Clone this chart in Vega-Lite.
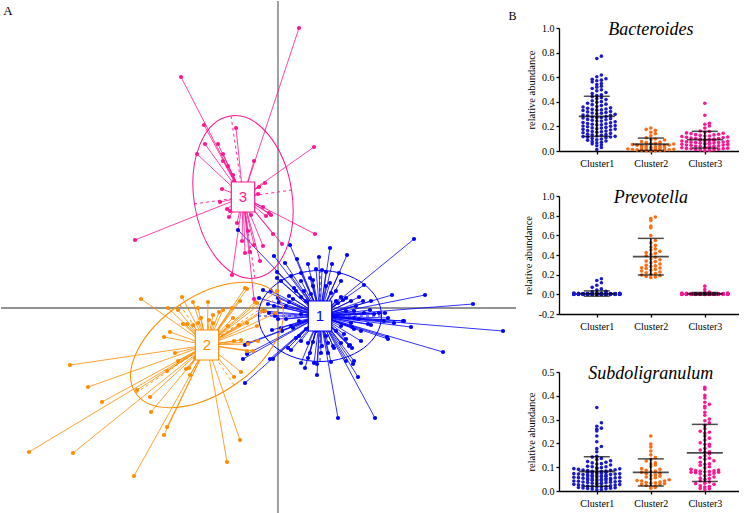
{"$schema":"https://vega.github.io/schema/vega-lite/v6.json","padding":0,"background":"white",
"config":{"view":{"stroke":null},"axis":{"domainColor":"black","domainWidth":1.3,"tickColor":"black","tickWidth":1.3,"tickSize":3,"labelFont":"Liberation Serif","labelFontSize":10,"labelColor":"black","labelPadding":2,"labelOverlap":false,"labelFlush":false,"titleFont":"Liberation Serif","titleFontSize":10.5,"titleFontWeight":"normal","titleColor":"black","titlePadding":5,"grid":false},"title":{"font":"Liberation Serif"}},
"datasets":{
"cen":[{"g":1,"cx":0.42,"cy":-0.08},{"g":2,"cx":-0.71,"cy":-0.37},{"g":3,"cx":-0.35,"cy":1.11}],
"ax":[{"g":3,"x":-0.47,"y":1.92},{"g":3,"x":-0.23,"y":0.30},{"g":3,"x":0.14,"y":1.18},{"g":3,"x":-0.84,"y":1.04},{"g":2,"x":0.00,"y":0.11},{"g":2,"x":-1.42,"y":-0.85},{"g":2,"x":-0.44,"y":-0.77},{"g":2,"x":-0.98,"y":0.03},{"g":1,"x":-0.20,"y":-0.08},{"g":1,"x":1.03,"y":-0.08},{"g":1,"x":0.42,"y":0.38},{"g":1,"x":0.42,"y":-0.53}],
"pts":[
{"g":1,"x":1.36,"y":0.69},{"g":1,"x":0.52,"y":0.60},{"g":1,"x":0.69,"y":0.53},{"g":1,"x":0.30,"y":0.44},{"g":1,"x":0.44,"y":0.38},{"g":1,"x":0.48,"y":0.36},{"g":1,"x":0.61,"y":0.35},{"g":1,"x":0.52,"y":0.25},{"g":1,"x":0.86,"y":0.23},{"g":1,"x":1.14,"y":0.13},{"g":1,"x":1.47,"y":0.13},{"g":1,"x":1.95,"y":0.04},{"g":1,"x":0.68,"y":0.10},{"g":1,"x":0.65,"y":0.08},{"g":1,"x":0.92,"y":-0.02},{"g":1,"x":1.01,"y":-0.05},{"g":1,"x":1.07,"y":-0.05},{"g":1,"x":1.10,"y":-0.10},{"g":1,"x":1.25,"y":-0.13},{"g":1,"x":1.33,"y":-0.19},{"g":1,"x":0.93,"y":-0.17},{"g":1,"x":0.76,"y":-0.10},{"g":1,"x":2.25,"y":-0.23},{"g":1,"x":1.09,"y":-0.29},{"g":1,"x":1.10,"y":-0.31},{"g":1,"x":1.65,"y":-0.44},{"g":1,"x":0.74,"y":-0.19},{"g":1,"x":0.76,"y":-0.21},{"g":1,"x":0.72,"y":-0.37},{"g":1,"x":0.74,"y":-0.40},{"g":1,"x":0.66,"y":-0.26},{"g":1,"x":0.56,"y":-0.40},{"g":1,"x":0.44,"y":-0.38},{"g":1,"x":0.35,"y":-0.34},{"g":1,"x":0.76,"y":-0.53},{"g":1,"x":0.75,"y":-0.56},{"g":1,"x":0.53,"y":-0.54},{"g":1,"x":0.80,"y":-0.69},{"g":1,"x":0.39,"y":-0.56},{"g":1,"x":0.39,"y":-0.67},{"g":1,"x":0.27,"y":-0.60},{"g":1,"x":0.60,"y":-1.10},{"g":1,"x":0.97,"y":-1.10},{"g":1,"x":0.32,"y":0.30},{"g":1,"x":0.35,"y":0.28},{"g":1,"x":0.58,"y":0.07},{"g":1,"x":0.12,"y":0.63},{"g":1,"x":-0.04,"y":0.52},{"g":1,"x":-0.01,"y":0.36},{"g":1,"x":-0.01,"y":0.30},{"g":1,"x":0.03,"y":0.27},{"g":1,"x":0.00,"y":0.10},{"g":1,"x":0.01,"y":0.06},{"g":1,"x":-0.10,"y":0.04},{"g":1,"x":-0.04,"y":0.02},{"g":1,"x":-0.14,"y":-0.03},{"g":1,"x":-0.09,"y":-0.05},{"g":1,"x":-0.03,"y":-0.08},{"g":1,"x":0.00,"y":-0.11},{"g":1,"x":-0.06,"y":-0.22},{"g":1,"x":0.03,"y":-0.20},{"g":1,"x":0.04,"y":-0.23},{"g":1,"x":-0.30,"y":-0.35},{"g":1,"x":-0.33,"y":-0.37},{"g":1,"x":-0.35,"y":-0.51},{"g":1,"x":-0.31,"y":-0.46},{"g":1,"x":-0.08,"y":-0.51},{"g":1,"x":-0.05,"y":-0.51},{"g":1,"x":-0.33,"y":-0.75},{"g":1,"x":0.10,"y":-0.40},{"g":1,"x":0.13,"y":-0.42},{"g":1,"x":0.23,"y":0.35},{"g":1,"x":0.16,"y":0.20},{"g":1,"x":0.15,"y":0.09},{"g":1,"x":0.11,"y":0.06},{"g":1,"x":0.08,"y":0.02},{"g":1,"x":0.23,"y":-0.06},{"g":1,"x":0.21,"y":-0.13},{"g":1,"x":0.15,"y":-0.20},{"g":1,"x":0.18,"y":-0.30},{"g":1,"x":0.23,"y":-0.33},{"g":1,"x":0.30,"y":-0.35},{"g":1,"x":0.50,"y":-0.35},{"g":1,"x":0.63,"y":-0.35},{"g":1,"x":0.71,"y":-0.38},{"g":1,"x":0.68,"y":-0.53},{"g":1,"x":0.36,"y":-0.55},{"g":1,"x":0.23,"y":-0.55},{"g":1,"x":0.30,"y":-0.50},{"g":1,"x":0.60,"y":0.05},{"g":1,"x":0.76,"y":-0.03},{"g":1,"x":0.86,"y":-0.05},{"g":1,"x":0.96,"y":-0.06},{"g":1,"x":1.06,"y":-0.13},{"g":1,"x":1.16,"y":-0.15},{"g":1,"x":1.26,"y":-0.13},{"g":1,"x":0.83,"y":-0.23},{"g":1,"x":0.90,"y":-0.16},{"g":1,"x":0.38,"y":0.39},{"g":1,"x":0.26,"y":0.17},{"g":1,"x":0.58,"y":0.17},{"g":1,"x":0.63,"y":-0.18},{"g":1,"x":0.19,"y":0.49},{"g":1,"x":0.41,"y":0.51},{"g":1,"x":0.54,"y":0.44},{"g":1,"x":0.81,"y":0.11},{"g":1,"x":0.50,"y":-0.45},{"g":1,"x":0.32,"y":-0.45},{"g":1,"x":0.07,"y":0.45},{"g":1,"x":-0.07,"y":0.17},{"g":1,"x":-0.40,"y":0.78},{"g":1,"x":-0.15,"y":0.18},{"g":1,"x":-0.19,"y":0.10},
{"g":1,"x":0.18,"y":0.17},{"g":1,"x":0.23,"y":0.11},{"g":1,"x":0.28,"y":0.07},{"g":1,"x":0.33,"y":0.14},{"g":1,"x":0.53,"y":0.15},{"g":1,"x":0.63,"y":0.11},{"g":1,"x":0.73,"y":0.07},{"g":1,"x":0.78,"y":0.02},{"g":1,"x":0.68,"y":-0.03},{"g":1,"x":0.58,"y":-0.23},{"g":1,"x":0.48,"y":-0.28},{"g":1,"x":0.38,"y":-0.23},{"g":1,"x":0.28,"y":-0.21},{"g":1,"x":0.21,"y":-0.28},{"g":1,"x":0.13,"y":-0.18},{"g":1,"x":0.08,"y":-0.11},{"g":1,"x":0.11,"y":0.12},{"g":1,"x":0.73,"y":-0.15},{"g":1,"x":0.81,"y":-0.11},{"g":1,"x":0.85,"y":0.07},{"g":1,"x":0.63,"y":0.27},{"g":1,"x":0.48,"y":0.22},{"g":1,"x":0.35,"y":0.22},{"g":1,"x":0.23,"y":0.27},{"g":1,"x":0.13,"y":0.32},{"g":1,"x":0.55,"y":-0.38},{"g":1,"x":0.43,"y":-0.45},{"g":1,"x":0.68,"y":-0.31},{"g":1,"x":0.83,"y":-0.33},{"g":1,"x":0.93,"y":0.07},
{"g":2,"x":-1.37,"y":0.09},{"g":2,"x":-0.96,"y":0.11},{"g":2,"x":-0.85,"y":0.06},{"g":2,"x":-0.70,"y":0.06},{"g":2,"x":-1.10,"y":0.00},{"g":2,"x":-1.00,"y":-0.02},{"g":2,"x":-0.80,"y":0.00},{"g":2,"x":-0.59,"y":-0.04},{"g":2,"x":-0.65,"y":-0.07},{"g":2,"x":-0.69,"y":-0.12},{"g":2,"x":-0.95,"y":-0.16},{"g":2,"x":-0.91,"y":-0.16},{"g":2,"x":-0.85,"y":-0.17},{"g":2,"x":-0.80,"y":-0.15},{"g":2,"x":-0.65,"y":-0.15},{"g":2,"x":-1.08,"y":-0.24},{"g":2,"x":-1.14,"y":-0.29},{"g":2,"x":-1.03,"y":-0.45},{"g":2,"x":-2.08,"y":-0.57},{"g":2,"x":-1.00,"y":-0.53},{"g":2,"x":-0.83,"y":-0.50},{"g":2,"x":-1.11,"y":-0.63},{"g":2,"x":-0.92,"y":-0.61},{"g":2,"x":-0.89,"y":-0.60},{"g":2,"x":-1.90,"y":-0.79},{"g":2,"x":-0.88,"y":-0.67},{"g":2,"x":-1.41,"y":-0.82},{"g":2,"x":-1.28,"y":-0.89},{"g":2,"x":-1.76,"y":-0.94},{"g":2,"x":-1.27,"y":-1.04},{"g":2,"x":-1.11,"y":-1.19},{"g":2,"x":-1.14,"y":-1.27},{"g":2,"x":-2.49,"y":-1.44},{"g":2,"x":-2.05,"y":-1.45},{"g":2,"x":-1.44,"y":-1.68},{"g":2,"x":-0.55,"y":-0.02},{"g":2,"x":-0.46,"y":0.00},{"g":2,"x":-0.33,"y":0.20},{"g":2,"x":-0.31,"y":0.19},{"g":2,"x":-0.38,"y":0.07},{"g":2,"x":-0.23,"y":0.06},{"g":2,"x":-0.21,"y":0.05},{"g":2,"x":-0.77,"y":-0.10},{"g":2,"x":-0.50,"y":-0.18},{"g":2,"x":-0.45,"y":-0.10},{"g":2,"x":-0.39,"y":-0.17},{"g":2,"x":-0.31,"y":-0.15},{"g":2,"x":-0.21,"y":-0.18},{"g":2,"x":-0.16,"y":-0.03},{"g":2,"x":-0.13,"y":-0.03},{"g":2,"x":-0.02,"y":-0.05},{"g":2,"x":-0.01,"y":0.17},{"g":2,"x":-0.44,"y":-0.33},{"g":2,"x":-0.37,"y":-0.32},{"g":2,"x":-0.30,"y":-0.36},{"g":2,"x":-0.20,"y":-0.33},{"g":2,"x":-0.25,"y":-0.43},{"g":2,"x":-0.31,"y":-0.43},{"g":2,"x":-0.44,"y":-0.69},{"g":2,"x":-0.37,"y":-0.64},{"g":2,"x":-0.38,"y":-1.32},{"g":2,"x":-0.51,"y":-1.54},
{"g":3,"x":0.21,"y":2.80},{"g":3,"x":-0.97,"y":2.31},{"g":3,"x":-1.43,"y":0.68},{"g":3,"x":-0.74,"y":1.83},{"g":3,"x":-0.42,"y":1.80},{"g":3,"x":0.36,"y":1.61},{"g":3,"x":-0.73,"y":1.64},{"g":3,"x":-0.60,"y":1.64},{"g":3,"x":-0.81,"y":1.54},{"g":3,"x":-0.55,"y":1.54},{"g":3,"x":-0.55,"y":1.47},{"g":3,"x":-0.50,"y":1.42},{"g":3,"x":-0.45,"y":1.33},{"g":3,"x":-0.24,"y":1.47},{"g":3,"x":-0.13,"y":1.25},{"g":3,"x":-0.20,"y":1.14},{"g":3,"x":-0.56,"y":1.19},{"g":3,"x":-0.58,"y":1.06},{"g":3,"x":-0.51,"y":0.99},{"g":3,"x":-0.48,"y":0.97},{"g":3,"x":-0.49,"y":0.91},{"g":3,"x":-0.12,"y":0.92},{"g":3,"x":-0.09,"y":0.95},{"g":3,"x":-0.07,"y":0.93},{"g":3,"x":-0.05,"y":0.74},{"g":3,"x":0.04,"y":0.64},{"g":3,"x":-0.30,"y":0.77},{"g":3,"x":-0.36,"y":0.67},{"g":3,"x":-0.28,"y":0.56},{"g":3,"x":-0.33,"y":0.55},{"g":3,"x":-0.24,"y":0.63},{"g":3,"x":-0.18,"y":0.47},{"g":3,"x":-0.46,"y":0.33},{"g":3,"x":-0.24,"y":0.09},{"g":3,"x":0.37,"y":0.74},{"g":3,"x":-0.15,"y":0.62},{"g":3,"x":-0.44,"y":1.27},{"g":3,"x":-0.19,"y":1.21},{"g":3,"x":-0.15,"y":1.01},{"g":3,"x":-0.41,"y":0.85},{"g":3,"x":-0.27,"y":0.93}],
"ab":[
{"c":1,"b":0.771,"p":0.003,"s":0.041},{"c":1,"b":0.752,"p":0.001,"s":0.018},{"c":1,"b":0.618,"p":0.006,"s":0.095},{"c":1,"b":0.604,"p":0.012,"s":0.033},{"c":1,"b":0.587,"p":0.000,"s":0.121},{"c":1,"b":0.583,"p":0.002,"s":0.057},{"c":1,"b":0.576,"p":0.004,"s":0.012},{"c":1,"b":0.571,"p":0.009,"s":0.074},{"c":1,"b":0.562,"p":0.001,"s":0.036},{"c":1,"b":0.548,"p":0.158,"s":0.009},
{"c":1,"b":0.541,"p":0.003,"s":0.088},{"c":1,"b":0.527,"p":0.000,"s":0.052},{"c":1,"b":0.519,"p":0.007,"s":0.146},{"c":1,"b":0.508,"p":0.002,"s":0.027},{"c":1,"b":0.497,"p":0.005,"s":0.063},{"c":1,"b":0.489,"p":0.013,"s":0.104},{"c":1,"b":0.476,"p":0.001,"s":0.045},{"c":1,"b":0.468,"p":0.003,"s":0.019},{"c":1,"b":0.457,"p":0.000,"s":0.081},{"c":1,"b":0.451,"p":0.008,"s":0.132},
{"c":1,"b":0.442,"p":0.002,"s":0.058},{"c":1,"b":0.433,"p":0.140,"s":0.023},{"c":1,"b":0.427,"p":0.004,"s":0.069},{"c":1,"b":0.418,"p":0.001,"s":0.351},{"c":1,"b":0.409,"p":0.006,"s":0.047},{"c":1,"b":0.401,"p":0.000,"s":0.094},{"c":1,"b":0.397,"p":0.011,"s":0.015},{"c":1,"b":0.388,"p":0.003,"s":0.072},{"c":1,"b":0.381,"p":0.002,"s":0.038},{"c":1,"b":0.377,"p":0.005,"s":0.113},
{"c":1,"b":0.369,"p":0.001,"s":0.061},{"c":1,"b":0.362,"p":0.009,"s":0.029},{"c":1,"b":0.358,"p":0.004,"s":0.084},{"c":1,"b":0.351,"p":0.000,"s":0.006},{"c":1,"b":0.347,"p":0.002,"s":0.287},{"c":1,"b":0.341,"p":0.118,"s":0.053},{"c":1,"b":0.338,"p":0.003,"s":0.097},{"c":1,"b":0.332,"p":0.001,"s":0.042},{"c":1,"b":0.329,"p":0.007,"s":0.066},{"c":1,"b":0.321,"p":0.002,"s":0.137},
{"c":1,"b":0.318,"p":0.004,"s":0.021},{"c":1,"b":0.312,"p":0.000,"s":0.078},{"c":1,"b":0.307,"p":0.006,"s":0.049},{"c":1,"b":0.302,"p":0.001,"s":0.264},{"c":1,"b":0.298,"p":0.003,"s":0.031},{"c":1,"b":0.291,"p":0.010,"s":0.089},{"c":1,"b":0.287,"p":0.002,"s":0.056},{"c":1,"b":0.281,"p":0.005,"s":0.011},{"c":1,"b":0.276,"p":0.001,"s":0.073},{"c":1,"b":0.272,"p":0.004,"s":0.118},
{"c":1,"b":0.268,"p":0.092,"s":0.044},{"c":1,"b":0.263,"p":0.000,"s":0.067},{"c":1,"b":0.257,"p":0.003,"s":0.025},{"c":1,"b":0.254,"p":0.002,"s":0.102},{"c":1,"b":0.249,"p":0.006,"s":0.059},{"c":1,"b":0.243,"p":0.001,"s":0.252},{"c":1,"b":0.238,"p":0.008,"s":0.037},{"c":1,"b":0.232,"p":0.003,"s":0.082},{"c":1,"b":0.229,"p":0.000,"s":0.014},{"c":1,"b":0.223,"p":0.005,"s":0.071},
{"c":1,"b":0.218,"p":0.002,"s":0.127},{"c":1,"b":0.212,"p":0.004,"s":0.048},{"c":1,"b":0.207,"p":0.071,"s":0.091},{"c":1,"b":0.201,"p":0.001,"s":0.033},{"c":1,"b":0.197,"p":0.003,"s":0.064},{"c":1,"b":0.192,"p":0.007,"s":0.231},{"c":1,"b":0.186,"p":0.000,"s":0.055},{"c":1,"b":0.181,"p":0.002,"s":0.008},{"c":1,"b":0.176,"p":0.005,"s":0.076},{"c":1,"b":0.171,"p":0.001,"s":0.143},
{"c":1,"b":0.166,"p":0.004,"s":0.039},{"c":1,"b":0.162,"p":0.003,"s":0.086},{"c":1,"b":0.157,"p":0.012,"s":0.051},{"c":1,"b":0.152,"p":0.002,"s":0.022},{"c":1,"b":0.148,"p":0.000,"s":0.109},{"c":1,"b":0.243,"p":0.006,"s":0.068},{"c":1,"b":0.221,"p":0.001,"s":0.187},{"c":1,"b":0.203,"p":0.055,"s":0.043},{"c":1,"b":0.178,"p":0.003,"s":0.079},{"c":1,"b":0.159,"p":0.002,"s":0.017},
{"c":1,"b":0.142,"p":0.004,"s":0.061},{"c":1,"b":0.137,"p":0.000,"s":0.124},{"c":1,"b":0.133,"p":0.008,"s":0.035},{"c":1,"b":0.128,"p":0.001,"s":0.093},{"c":1,"b":0.122,"p":0.003,"s":0.052},{"c":1,"b":0.117,"p":0.002,"s":0.272},{"c":1,"b":0.112,"p":0.005,"s":0.028},{"c":1,"b":0.108,"p":0.043,"s":0.075},{"c":1,"b":0.102,"p":0.001,"s":0.046},{"c":1,"b":0.097,"p":0.004,"s":0.165},
{"c":1,"b":0.092,"p":0.000,"s":0.062},{"c":1,"b":0.087,"p":0.006,"s":0.019},{"c":1,"b":0.081,"p":0.002,"s":0.087},{"c":1,"b":0.077,"p":0.003,"s":0.054},{"c":1,"b":0.071,"p":0.001,"s":0.207},{"c":1,"b":0.066,"p":0.009,"s":0.032},{"c":1,"b":0.058,"p":0.002,"s":0.071},{"c":1,"b":0.051,"p":0.000,"s":0.005},{"c":1,"b":0.131,"p":0.004,"s":0.098},{"c":1,"b":0.114,"p":0.031,"s":0.047},
{"c":1,"b":0.012,"p":0.001,"s":0.064},{"c":1,"b":0.029,"p":0.003,"s":0.115},{"c":1,"b":0.043,"p":0.002,"s":0.026},{"c":1,"b":0.271,"p":0.007,"s":0.083},{"c":1,"b":0.293,"p":0.001,"s":0.178},{"c":1,"b":0.309,"p":0.004,"s":0.041},{"c":1,"b":0.214,"p":0.000,"s":0.259},{"c":1,"b":0.188,"p":0.026,"s":0.069},{"c":1,"b":0.119,"p":0.002,"s":0.013},{"c":1,"b":0.334,"p":0.005,"s":0.102},
{"c":2,"b":0.187,"p":0.786,"s":0.042},{"c":2,"b":0.176,"p":0.771,"s":0.118},{"c":2,"b":0.168,"p":0.752,"s":0.231},{"c":2,"b":0.152,"p":0.694,"s":0.065},{"c":2,"b":0.141,"p":0.677,"s":0.027},{"c":2,"b":0.123,"p":0.598,"s":0.185},{"c":2,"b":0.108,"p":0.547,"s":0.091},{"c":2,"b":0.097,"p":0.523,"s":0.034},{"c":2,"b":0.089,"p":0.498,"s":0.152},{"c":2,"b":0.076,"p":0.481,"s":0.073},
{"c":2,"b":0.068,"p":0.462,"s":0.019},{"c":2,"b":0.061,"p":0.451,"s":0.103},{"c":2,"b":0.057,"p":0.437,"s":0.056},{"c":2,"b":0.052,"p":0.425,"s":0.168},{"c":2,"b":0.048,"p":0.408,"s":0.012},{"c":2,"b":0.044,"p":0.392,"s":0.084},{"c":2,"b":0.041,"p":0.376,"s":0.047},{"c":2,"b":0.037,"p":0.361,"s":0.126},{"c":2,"b":0.034,"p":0.352,"s":0.031},{"c":2,"b":0.031,"p":0.338,"s":0.062},
{"c":2,"b":0.028,"p":0.321,"s":0.197},{"c":2,"b":0.025,"p":0.309,"s":0.038},{"c":2,"b":0.022,"p":0.296,"s":0.079},{"c":2,"b":0.019,"p":0.284,"s":0.023},{"c":2,"b":0.017,"p":0.271,"s":0.109},{"c":2,"b":0.014,"p":0.262,"s":0.051},{"c":2,"b":0.012,"p":0.254,"s":0.141},{"c":2,"b":0.010,"p":0.246,"s":0.036},{"c":2,"b":0.008,"p":0.238,"s":0.087},{"c":2,"b":0.006,"p":0.227,"s":0.015},
{"c":2,"b":0.004,"p":0.219,"s":0.068},{"c":2,"b":0.003,"p":0.211,"s":0.094},{"c":2,"b":0.002,"p":0.204,"s":0.042},{"c":2,"b":0.001,"p":0.197,"s":0.133},{"c":2,"b":0.039,"p":0.189,"s":0.028},{"c":2,"b":0.063,"p":0.182,"s":0.059},{"c":2,"b":0.072,"p":0.176,"s":0.081},{"c":2,"b":0.094,"p":0.171,"s":0.021},{"c":2,"b":0.021,"p":0.268,"s":0.044},{"c":2,"b":0.016,"p":0.333,"s":0.113},
{"c":2,"b":0.009,"p":0.417,"s":0.074},{"c":2,"b":0.046,"p":0.289,"s":0.033},
{"c":3,"b":0.388,"p":0.003,"s":0.436},{"c":3,"b":0.291,"p":0.001,"s":0.428},{"c":3,"b":0.226,"p":0.007,"s":0.402},{"c":3,"b":0.218,"p":0.002,"s":0.391},{"c":3,"b":0.204,"p":0.000,"s":0.373},{"c":3,"b":0.186,"p":0.011,"s":0.356},{"c":3,"b":0.163,"p":0.004,"s":0.349},{"c":3,"b":0.158,"p":0.083,"s":0.331},{"c":3,"b":0.152,"p":0.002,"s":0.318},{"c":3,"b":0.147,"p":0.001,"s":0.302},
{"c":3,"b":0.141,"p":0.006,"s":0.287},{"c":3,"b":0.136,"p":0.003,"s":0.276},{"c":3,"b":0.131,"p":0.000,"s":0.262},{"c":3,"b":0.127,"p":0.014,"s":0.251},{"c":3,"b":0.122,"p":0.002,"s":0.243},{"c":3,"b":0.118,"p":0.005,"s":0.231},{"c":3,"b":0.114,"p":0.001,"s":0.222},{"c":3,"b":0.109,"p":0.003,"s":0.214},{"c":3,"b":0.105,"p":0.000,"s":0.203},{"c":3,"b":0.101,"p":0.048,"s":0.196},
{"c":3,"b":0.098,"p":0.002,"s":0.188},{"c":3,"b":0.094,"p":0.007,"s":0.179},{"c":3,"b":0.091,"p":0.001,"s":0.172},{"c":3,"b":0.087,"p":0.004,"s":0.164},{"c":3,"b":0.084,"p":0.000,"s":0.156},{"c":3,"b":0.081,"p":0.003,"s":0.148},{"c":3,"b":0.078,"p":0.002,"s":0.141},{"c":3,"b":0.075,"p":0.009,"s":0.133},{"c":3,"b":0.072,"p":0.001,"s":0.127},{"c":3,"b":0.069,"p":0.005,"s":0.121},
{"c":3,"b":0.066,"p":0.000,"s":0.114},{"c":3,"b":0.063,"p":0.002,"s":0.108},{"c":3,"b":0.061,"p":0.003,"s":0.102},{"c":3,"b":0.058,"p":0.001,"s":0.097},{"c":3,"b":0.055,"p":0.024,"s":0.091},{"c":3,"b":0.052,"p":0.004,"s":0.086},{"c":3,"b":0.049,"p":0.000,"s":0.082},{"c":3,"b":0.046,"p":0.002,"s":0.079},{"c":3,"b":0.043,"p":0.006,"s":0.075},{"c":3,"b":0.041,"p":0.001,"s":0.072},
{"c":3,"b":0.038,"p":0.003,"s":0.068},{"c":3,"b":0.035,"p":0.000,"s":0.064},{"c":3,"b":0.032,"p":0.002,"s":0.059},{"c":3,"b":0.029,"p":0.012,"s":0.054},{"c":3,"b":0.026,"p":0.001,"s":0.049},{"c":3,"b":0.023,"p":0.004,"s":0.043},{"c":3,"b":0.021,"p":0.000,"s":0.038},{"c":3,"b":0.018,"p":0.002,"s":0.033},{"c":3,"b":0.015,"p":0.003,"s":0.028},{"c":3,"b":0.012,"p":0.001,"s":0.022},
{"c":3,"b":0.009,"p":0.005,"s":0.017},{"c":3,"b":0.006,"p":0.000,"s":0.011},{"c":3,"b":0.003,"p":0.002,"s":0.006},{"c":3,"b":0.112,"p":0.017,"s":0.083},{"c":3,"b":0.097,"p":0.001,"s":0.077},{"c":3,"b":0.085,"p":0.003,"s":0.085},{"c":3,"b":0.073,"p":0.000,"s":0.081},{"c":3,"b":0.064,"p":0.004,"s":0.079},{"c":3,"b":0.057,"p":0.002,"s":0.088},{"c":3,"b":0.121,"p":0.001,"s":0.112},
{"c":3,"b":0.133,"p":0.006,"s":0.196},{"c":3,"b":0.144,"p":0.000,"s":0.165},{"c":3,"b":0.048,"p":0.002,"s":0.052},{"c":3,"b":0.036,"p":0.003,"s":0.031},{"c":3,"b":0.027,"p":0.001,"s":0.247},{"c":3,"b":0.019,"p":0.004,"s":0.138},{"c":3,"b":0.011,"p":0.000,"s":0.019},{"c":3,"b":0.069,"p":0.002,"s":0.295},{"c":3,"b":0.088,"p":0.005,"s":0.364},{"c":3,"b":0.102,"p":0.001,"s":0.009}],
"sm":[{"t":"b","c":1,"m":0.282,"sd":0.163},{"t":"b","c":2,"m":0.055,"sd":0.05},{"t":"b","c":3,"m":0.092,"sd":0.068},{"t":"p","c":1,"m":0.008,"sd":0.027},{"t":"p","c":2,"m":0.383,"sd":0.186},{"t":"p","c":3,"m":0.006,"sd":0.013},{"t":"s","c":1,"m":0.082,"sd":0.062},{"t":"s","c":2,"m":0.078,"sd":0.057},{"t":"s","c":3,"m":0.16,"sd":0.12}]
},
"resolve":{"scale":{"color":"independent"}},
"spacing":6,
"hconcat":[
{"width":515,"height":486,
"layer":[
{"data":{"values":[{}]},"mark":{"type":"rule","color":"#6e6e6e","strokeWidth":1.3},"encoding":{"x":{"datum":0,"type":"quantitative","scale":{"domain":[-2.77,2.38],"nice":false,"zero":false},"axis":null},"y":{"datum":-2.06,"type":"quantitative","scale":{"domain":[-2.06,2.80],"nice":false,"zero":false},"axis":null},"y2":{"datum":3.07}}},
{"data":{"values":[{}]},"mark":{"type":"rule","color":"#6e6e6e","strokeWidth":1.3},"encoding":{"y":{"datum":0,"type":"quantitative","axis":null}}},
{"data":{"name":"pts"},"transform":[{"lookup":"g","from":{"data":{"name":"cen"},"key":"g","fields":["cx","cy"]}}],"mark":{"type":"rule","strokeWidth":0.8},"encoding":{"x":{"field":"x","type":"quantitative","axis":null},"y":{"field":"y","type":"quantitative","axis":null},"x2":{"field":"cx"},"y2":{"field":"cy"},"color":{"field":"g","type":"nominal","scale":{"domain":[1,2,3],"range":["#0000ff","#ff8c00","#ff1493"]},"legend":null}}},
{"data":{"name":"ax"},"transform":[{"lookup":"g","from":{"data":{"name":"cen"},"key":"g","fields":["cx","cy"]}}],"mark":{"type":"rule","strokeWidth":0.9,"strokeDash":[3,3]},"encoding":{"x":{"field":"x","type":"quantitative","axis":null},"y":{"field":"y","type":"quantitative","axis":null},"x2":{"field":"cx"},"y2":{"field":"cy"},"color":{"field":"g","type":"nominal","legend":null}}},
{"data":{"name":"pts"},"mark":{"type":"circle","size":18,"opacity":1},"encoding":{"x":{"field":"x","type":"quantitative","axis":null},"y":{"field":"y","type":"quantitative","axis":null},"color":{"field":"g","type":"nominal","legend":null}}},
{"data":{"name":"cen"},"transform":[{"filter":"datum.g==1"}],"mark":{"type":"point","shape":"M1,0C1,0.409,0.552,0.74,0,0.74C-0.552,0.74,-1,0.409,-1,0C-1,-0.409,-0.552,-0.74,0,-0.74C0.552,-0.74,1,-0.409,1,0Z","size":15129,"filled":false,"strokeWidth":1,"opacity":1},"encoding":{"x":{"field":"cx","type":"quantitative","axis":null},"y":{"field":"cy","type":"quantitative","axis":null},"color":{"field":"g","type":"nominal","legend":null}}},
{"data":{"name":"cen"},"transform":[{"filter":"datum.g==2"}],"mark":{"type":"point","shape":"M1,0C1,0.311,0.552,0.564,0,0.564C-0.552,0.564,-1,0.311,-1,0C-1,-0.311,-0.552,-0.564,0,-0.564C0.552,-0.564,1,-0.311,1,0Z","size":29584,"angle":326,"filled":false,"strokeWidth":1,"opacity":1},"encoding":{"x":{"field":"cx","type":"quantitative","axis":null},"y":{"field":"cy","type":"quantitative","axis":null},"color":{"field":"g","type":"nominal","legend":null}}},
{"data":{"name":"cen"},"transform":[{"filter":"datum.g==3"}],"mark":{"type":"point","shape":"M0.598,0C0.598,0.552,0.33,1,0,1C-0.33,1,-0.598,0.552,-0.598,0C-0.598,-0.552,-0.33,-1,0,-1C0.33,-1,0.598,-0.552,0.598,0Z","size":26896,"angle":351,"filled":false,"strokeWidth":1,"opacity":1},"encoding":{"x":{"field":"cx","type":"quantitative","axis":null},"y":{"field":"cy","type":"quantitative","axis":null},"color":{"field":"g","type":"nominal","legend":null}}},
{"data":{"name":"cen"},"mark":{"type":"point","shape":"M-0.78,-1L0.78,-1L0.78,1L-0.78,1Z","size":900,"filled":true,"fill":"white","opacity":1,"strokeWidth":1.2},"encoding":{"x":{"field":"cx","type":"quantitative","axis":null},"y":{"field":"cy","type":"quantitative","axis":null},"stroke":{"field":"g","type":"nominal","scale":{"domain":[1,2,3],"range":["#0000ff","#ff8c00","#ff1493"]},"legend":null}}},
{"data":{"name":"cen"},"mark":{"type":"text","font":"Liberation Sans","fontSize":15,"align":"center","baseline":"middle"},"encoding":{"x":{"field":"cx","type":"quantitative","axis":null},"y":{"field":"cy","type":"quantitative","axis":null},"text":{"field":"g"},"color":{"field":"g","type":"nominal","legend":null}}},
{"data":{"values":[{}]},"mark":{"type":"text","text":"A","font":"Liberation Serif","fontSize":13,"color":"black","align":"center","baseline":"middle"},"encoding":{"x":{"datum":-2.70,"type":"quantitative","axis":null},"y":{"datum":2.975,"type":"quantitative","axis":null}}},
{"data":{"values":[{}]},"mark":{"type":"text","text":"B","font":"Liberation Serif","fontSize":12,"color":"black","align":"center","baseline":"middle"},"encoding":{"x":{"datum":2.345,"type":"quantitative","axis":null},"y":{"datum":2.92,"type":"quantitative","axis":null}}}
]},
{"vconcat":[
{"width":180,"height":123,"title":{"text":" ","fontSize":13,"offset":6},
"layer":[
{"data":{"name":"ab"},"transform":[{"bin":{"step":0.03},"field":"b","as":"bb"},{"window":[{"op":"row_number","as":"rn"}],"groupby":["c","bb"],"sort":[{"field":"b"}]},{"calculate":"(datum.rn-1)%11","as":"k"},{"calculate":"datum.c+(datum.k%2==1?1:-1)*ceil(datum.k/2)*0.085","as":"xp"}],
"mark":{"type":"circle","size":13,"opacity":1},
"encoding":{"x":{"field":"xp","type":"quantitative","scale":{"domain":[0.3,3.633],"nice":false,"zero":false},"axis":{"values":[1,2,3],"labelExpr":"'Cluster'+datum.value","labelPadding":4,"labelOverlap":false,"title":null,"labelFont":"Liberation Serif"}},
"y":{"field":"b","type":"quantitative","scale":{"domain":[0,1],"nice":false,"zero":false},"axis":{"values":[0,0.2,0.4,0.6,0.8,1],"format":".1f","labelOverlap":false,"title":"relative abundance","labelFont":"Liberation Serif","titleFont":"Liberation Serif"}},
"color":{"field":"c","type":"nominal","scale":{"domain":[1,2,3],"range":["#1a1acc","#ff6a13","#ff1493"]},"legend":null}}},
{"data":{"name":"sm"},"transform":[{"filter":"datum.t=='b'"},{"calculate":"datum.m-datum.sd","as":"lo"},{"calculate":"datum.m+datum.sd","as":"hi"}],
"layer":[
{"mark":{"type":"rule","color":"black","strokeWidth":1.5},"encoding":{"x":{"field":"c","type":"quantitative","axis":{"values":[1,2,3],"labelExpr":"'Cluster'+datum.value","labelPadding":4,"labelOverlap":false,"title":null}},"y":{"field":"lo","type":"quantitative","axis":{"values":[0,0.2,0.4,0.6,0.8,1],"format":".1f","labelOverlap":false,"title":"relative abundance"}},"y2":{"field":"hi"}}},
{"mark":{"type":"tick","orient":"horizontal","color":"black","size":36,"thickness":1.8},"encoding":{"x":{"field":"c","type":"quantitative","axis":{"values":[1,2,3],"labelExpr":"'Cluster'+datum.value","labelPadding":4,"labelOverlap":false,"title":null}},"y":{"field":"m","type":"quantitative","axis":{"values":[0,0.2,0.4,0.6,0.8,1],"format":".1f","labelOverlap":false,"title":"relative abundance"}}}},
{"mark":{"type":"tick","orient":"horizontal","color":"black","size":26,"thickness":1.5},"encoding":{"x":{"field":"c","type":"quantitative","axis":{"values":[1,2,3],"labelExpr":"'Cluster'+datum.value","labelPadding":4,"labelOverlap":false,"title":null}},"y":{"field":"lo","type":"quantitative","axis":{"values":[0,0.2,0.4,0.6,0.8,1],"format":".1f","labelOverlap":false,"title":"relative abundance"}}}},
{"mark":{"type":"tick","orient":"horizontal","color":"black","size":26,"thickness":1.5},"encoding":{"x":{"field":"c","type":"quantitative","axis":{"values":[1,2,3],"labelExpr":"'Cluster'+datum.value","labelPadding":4,"labelOverlap":false,"title":null}},"y":{"field":"hi","type":"quantitative","axis":{"values":[0,0.2,0.4,0.6,0.8,1],"format":".1f","labelOverlap":false,"title":"relative abundance"}}}}
]},
{"data":{"values":[{"n":"Bacteroides"}]},"mark":{"type":"text","font":"Liberation Serif","fontStyle":"italic","fontSize":18,"baseline":"alphabetic","align":"center","dy":6.5,"color":"black"},"encoding":{"x":{"datum":2,"type":"quantitative","axis":{"values":[1,2,3],"labelExpr":"'Cluster'+datum.value","labelPadding":4,"labelOverlap":false,"title":null}},"y":{"datum":1,"type":"quantitative","axis":{"values":[0,0.2,0.4,0.6,0.8,1],"format":".1f","labelOverlap":false,"title":"relative abundance"}},"text":{"field":"n"}}}
]},
{"width":180,"height":118,
"layer":[
{"data":{"name":"ab"},"transform":[{"bin":{"step":0.04},"field":"p","as":"pb"},{"window":[{"op":"row_number","as":"rn"}],"groupby":["c","pb"],"sort":[{"field":"p"}]},{"calculate":"(datum.rn-1)%11","as":"k"},{"calculate":"datum.c+(datum.k%2==1?1:-1)*ceil(datum.k/2)*0.085","as":"xp"}],
"mark":{"type":"circle","size":13,"opacity":1},
"encoding":{"x":{"field":"xp","type":"quantitative","scale":{"domain":[0.3,3.633],"nice":false,"zero":false},"axis":{"values":[1,2,3],"labelExpr":"'Cluster'+datum.value","labelPadding":4,"labelOverlap":false,"title":null,"labelFont":"Liberation Serif"}},
"y":{"field":"p","type":"quantitative","scale":{"domain":[-0.2,1],"nice":false,"zero":false},"axis":{"values":[-0.2,0,0.2,0.4,0.6,0.8,1],"labelExpr":"replace(format(datum.value,'.1f'),'\u2212','-')","labelOverlap":false,"title":"relative abundance","labelFont":"Liberation Serif","titleFont":"Liberation Serif"}},
"color":{"field":"c","type":"nominal","legend":null}}},
{"data":{"name":"sm"},"transform":[{"filter":"datum.t=='p'"},{"calculate":"datum.m-datum.sd","as":"lo"},{"calculate":"datum.m+datum.sd","as":"hi"}],
"layer":[
{"mark":{"type":"rule","color":"black","strokeWidth":1.5},"encoding":{"x":{"field":"c","type":"quantitative","axis":{"values":[1,2,3],"labelExpr":"'Cluster'+datum.value","labelPadding":4,"labelOverlap":false,"title":null}},"y":{"field":"lo","type":"quantitative","axis":{"values":[-0.2,0,0.2,0.4,0.6,0.8,1],"labelExpr":"replace(format(datum.value,'.1f'),'\u2212','-')","labelOverlap":false,"title":"relative abundance"}},"y2":{"field":"hi"}}},
{"mark":{"type":"tick","orient":"horizontal","color":"black","size":36,"thickness":1.8},"encoding":{"x":{"field":"c","type":"quantitative","axis":{"values":[1,2,3],"labelExpr":"'Cluster'+datum.value","labelPadding":4,"labelOverlap":false,"title":null}},"y":{"field":"m","type":"quantitative","axis":{"values":[-0.2,0,0.2,0.4,0.6,0.8,1],"labelExpr":"replace(format(datum.value,'.1f'),'\u2212','-')","labelOverlap":false,"title":"relative abundance"}}}},
{"mark":{"type":"tick","orient":"horizontal","color":"black","size":26,"thickness":1.5},"encoding":{"x":{"field":"c","type":"quantitative","axis":{"values":[1,2,3],"labelExpr":"'Cluster'+datum.value","labelPadding":4,"labelOverlap":false,"title":null}},"y":{"field":"lo","type":"quantitative","axis":{"values":[-0.2,0,0.2,0.4,0.6,0.8,1],"labelExpr":"replace(format(datum.value,'.1f'),'\u2212','-')","labelOverlap":false,"title":"relative abundance"}}}},
{"mark":{"type":"tick","orient":"horizontal","color":"black","size":26,"thickness":1.5},"encoding":{"x":{"field":"c","type":"quantitative","axis":{"values":[1,2,3],"labelExpr":"'Cluster'+datum.value","labelPadding":4,"labelOverlap":false,"title":null}},"y":{"field":"hi","type":"quantitative","axis":{"values":[-0.2,0,0.2,0.4,0.6,0.8,1],"labelExpr":"replace(format(datum.value,'.1f'),'\u2212','-')","labelOverlap":false,"title":"relative abundance"}}}}
]},
{"data":{"values":[{"n":"Prevotella"}]},"mark":{"type":"text","font":"Liberation Serif","fontStyle":"italic","fontSize":18,"baseline":"alphabetic","align":"center","dy":6.5,"color":"black"},"encoding":{"x":{"datum":2,"type":"quantitative","axis":{"values":[1,2,3],"labelExpr":"'Cluster'+datum.value","labelPadding":4,"labelOverlap":false,"title":null}},"y":{"datum":1,"type":"quantitative","axis":{"values":[-0.2,0,0.2,0.4,0.6,0.8,1],"labelExpr":"replace(format(datum.value,'.1f'),'\u2212','-')","labelOverlap":false,"title":"relative abundance"}},"text":{"field":"n"}}}
]},
{"width":180,"height":119,"title":{"text":" ","fontSize":8,"offset":5},
"layer":[
{"data":{"name":"ab"},"transform":[{"bin":{"step":0.016},"field":"s","as":"sb"},{"window":[{"op":"row_number","as":"rn"}],"groupby":["c","sb"],"sort":[{"field":"s"}]},{"calculate":"(datum.rn-1)%11","as":"k"},{"calculate":"datum.c+(datum.k%2==1?1:-1)*ceil(datum.k/2)*0.085","as":"xp"}],
"mark":{"type":"circle","size":13,"opacity":1},
"encoding":{"x":{"field":"xp","type":"quantitative","scale":{"domain":[0.3,3.633],"nice":false,"zero":false},"axis":{"values":[1,2,3],"labelExpr":"'Cluster'+datum.value","labelPadding":4,"labelOverlap":false,"title":null,"labelFont":"Liberation Serif"}},
"y":{"field":"s","type":"quantitative","scale":{"domain":[0,0.5],"nice":false,"zero":false},"axis":{"values":[0,0.1,0.2,0.3,0.4,0.5],"format":".1f","labelOverlap":false,"title":"relative abundance","labelFont":"Liberation Serif","titleFont":"Liberation Serif"}},
"color":{"field":"c","type":"nominal","legend":null}}},
{"data":{"name":"sm"},"transform":[{"filter":"datum.t=='s'"},{"calculate":"datum.m-datum.sd","as":"lo"},{"calculate":"datum.m+datum.sd","as":"hi"}],
"layer":[
{"mark":{"type":"rule","color":"black","strokeWidth":1.5},"encoding":{"x":{"field":"c","type":"quantitative","axis":{"values":[1,2,3],"labelExpr":"'Cluster'+datum.value","labelPadding":4,"labelOverlap":false,"title":null}},"y":{"field":"lo","type":"quantitative","axis":{"values":[0,0.1,0.2,0.3,0.4,0.5],"format":".1f","labelOverlap":false,"title":"relative abundance"}},"y2":{"field":"hi"}}},
{"mark":{"type":"tick","orient":"horizontal","color":"black","size":36,"thickness":1.8},"encoding":{"x":{"field":"c","type":"quantitative","axis":{"values":[1,2,3],"labelExpr":"'Cluster'+datum.value","labelPadding":4,"labelOverlap":false,"title":null}},"y":{"field":"m","type":"quantitative","axis":{"values":[0,0.1,0.2,0.3,0.4,0.5],"format":".1f","labelOverlap":false,"title":"relative abundance"}}}},
{"mark":{"type":"tick","orient":"horizontal","color":"black","size":26,"thickness":1.5},"encoding":{"x":{"field":"c","type":"quantitative","axis":{"values":[1,2,3],"labelExpr":"'Cluster'+datum.value","labelPadding":4,"labelOverlap":false,"title":null}},"y":{"field":"lo","type":"quantitative","axis":{"values":[0,0.1,0.2,0.3,0.4,0.5],"format":".1f","labelOverlap":false,"title":"relative abundance"}}}},
{"mark":{"type":"tick","orient":"horizontal","color":"black","size":26,"thickness":1.5},"encoding":{"x":{"field":"c","type":"quantitative","axis":{"values":[1,2,3],"labelExpr":"'Cluster'+datum.value","labelPadding":4,"labelOverlap":false,"title":null}},"y":{"field":"hi","type":"quantitative","axis":{"values":[0,0.1,0.2,0.3,0.4,0.5],"format":".1f","labelOverlap":false,"title":"relative abundance"}}}}
]},
{"data":{"values":[{"n":"Subdoligranulum"}]},"mark":{"type":"text","font":"Liberation Serif","fontStyle":"italic","fontSize":18,"baseline":"alphabetic","align":"center","dy":6.5,"color":"black"},"encoding":{"x":{"datum":2,"type":"quantitative","axis":{"values":[1,2,3],"labelExpr":"'Cluster'+datum.value","labelPadding":4,"labelOverlap":false,"title":null}},"y":{"datum":0.5,"type":"quantitative","axis":{"values":[0,0.1,0.2,0.3,0.4,0.5],"format":".1f","labelOverlap":false,"title":"relative abundance"}},"text":{"field":"n"}}}
]}
],"spacing":20}
]}
